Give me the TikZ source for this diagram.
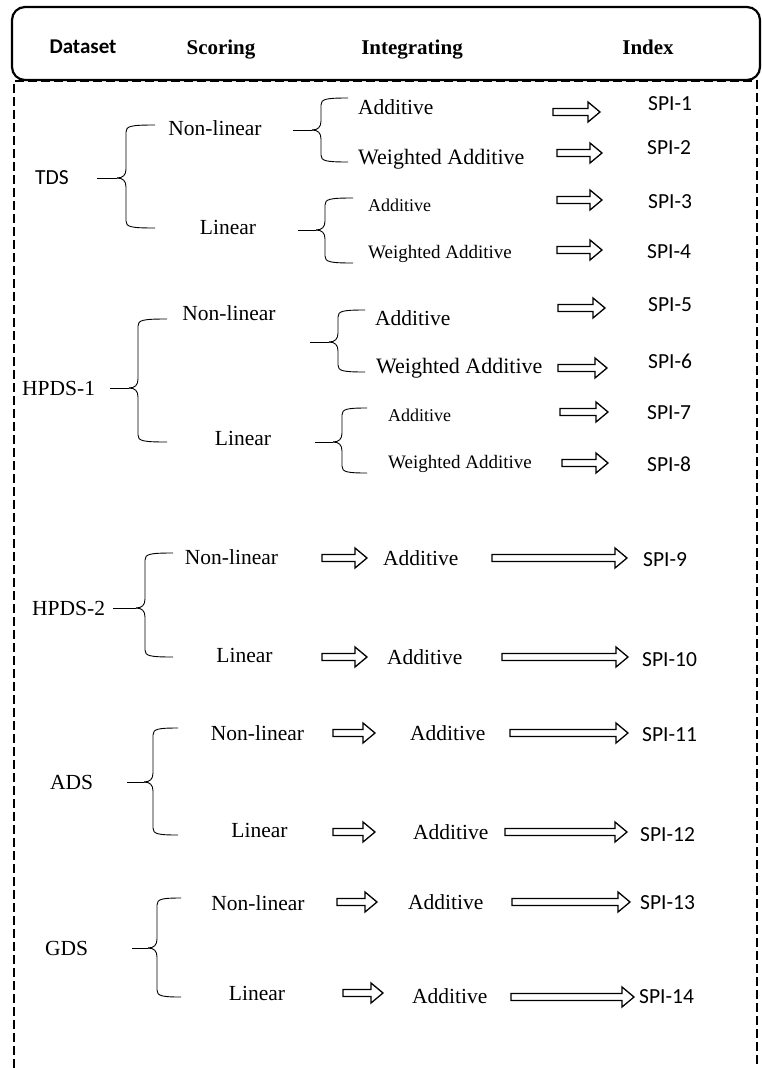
\documentclass[tikz,border=0pt]{standalone}
\usepackage{fontspec}
\setmainfont{Liberation Serif}
\newfontfamily\calfont{Carlito}
\tikzset{
  hdr/.style={font=\bfseries\fontsize{21}{24}\selectfont, inner sep=0pt, anchor=base, yshift=-7.1pt},
  hdrc/.style={font=\calfont\bfseries\fontsize{21}{24}\selectfont, inner sep=0pt, anchor=base, yshift=-6.8pt},
  tnr/.style={font=\fontsize{21.5}{24}\selectfont, inner sep=0pt, anchor=base west, yshift=-7.1pt},
  tnrW/.style={font=\fontsize{22}{24}\selectfont, inner sep=0pt, anchor=base west, yshift=-7.3pt},
  tnrS/.style={font=\fontsize{18}{20}\selectfont, inner sep=0pt, anchor=base west, yshift=-6pt},
  tnrWs/.style={font=\fontsize{19}{21}\selectfont, inner sep=0pt, anchor=base west, yshift=-6.3pt},
  cal/.style={font=\calfont\fontsize{21.5}{24}\selectfont, inner sep=0pt, anchor=base west, yshift=-6.9pt},
  bracepath/.style={line width=0.9pt},
  blkarrow/.style={line width=1.3pt, line join=miter},
  frame/.style={line width=2.2pt, rounded corners=13pt},
  dashframe/.style={line width=1.5pt, dash pattern=on 9pt off 4pt},
}
% block arrow: x-start, x-end, y
\newcommand\blk[3]{\draw[blkarrow] (#1,#3-3.5) -- (#2-12,#3-3.5) -- (#2-12,#3-10) -- (#2,#3) -- (#2-12,#3+10) -- (#2-12,#3+3.5) -- (#1,#3+3.5) -- cycle;}
% brace: stem start x, brace x, end x, top y, mid y, bottom y
\newcommand\brc[6]{%
  \draw[bracepath] (#1,#5) -- (#2-9,#5);
  \draw[bracepath] (#2-9,#5) .. controls (#2-3,#5) and (#2,#5-3) .. (#2,#5-9) -- (#2,#4+7) .. controls (#2,#4+1) and (#2+5,#4) .. (#3,#4);
  \draw[bracepath] (#2-9,#5) .. controls (#2-3,#5) and (#2,#5+3) .. (#2,#5+9) -- (#2,#6-7) .. controls (#2,#6-1) and (#2+5,#6) .. (#3,#6);
}
\begin{document}
\begin{tikzpicture}[x=1pt,y=-1pt]
\useasboundingbox (0,0) rectangle (761,1068);
\fill[white] (0,0) rectangle (761,1068);
% frames
\draw[dashframe] (14,1068) -- (14,81) -- (757,81) -- (757,1068);
\draw[frame, fill=white] (12,7) rectangle (760,80);
\node[hdrc] (hd) at (83,47) {Dataset};
\node[hdr] (hs) at (221,47) {Scoring};
\node[hdr] (hi) at (412,47) {Integrating};
\node[hdr] (hx) at (648,47) {Index};

% ---------- TDS ----------
\node[cal] (tds) at (35,178) {TDS};
\node[tnr, anchor=base] (tnl) at (215,128) {Non-linear};
\node[tnr, anchor=base] (tl) at (228,227) {Linear};
\brc{97}{126}{155}{125}{178}{228}
\brc{293}{321}{348}{98}{130}{162}
\brc{298}{325}{353}{198}{230}{263}
\node[tnr] (ta1) at (358,107) {Additive};
\node[tnrW] (ta2) at (358,157) {Weighted Additive};
\node[tnrS] (ta3) at (368,205) {Additive};
\node[tnrWs] (ta4) at (368,252) {Weighted Additive};
\blk{553}{600}{112}
\blk{557}{602}{153}
\blk{557}{602}{200}
\blk{557}{602}{250}
\node[cal] (s1) at (648,104) {SPI-1};
\node[cal] (s2) at (647,148) {SPI-2};
\node[cal] (s3) at (648,202) {SPI-3};
\node[cal] (s4) at (647,252) {SPI-4};

% ---------- HPDS-1 ----------
\node[tnr] (h1) at (22,388) {HPDS-1};
\node[tnr, anchor=base] (h1nl) at (229,313) {Non-linear};
\node[tnr, anchor=base] (h1l) at (243,438) {Linear};
\brc{110}{138}{167}{319}{388}{442}
\brc{310}{338}{365}{310}{342}{372}
\brc{315}{342}{367}{408}{442}{473}
\node[tnr] (ha1) at (375,318) {Additive};
\node[tnrW] (ha2) at (376,366) {Weighted Additive};
\node[tnrS] (ha3) at (388,415) {Additive};
\node[tnrWs] (ha4) at (388,462) {Weighted Additive};
\blk{558}{605}{308}
\blk{558}{607}{368}
\blk{560}{608}{412}
\blk{562}{608}{463}
\node[cal] (s5) at (648,305) {SPI-5};
\node[cal] (s6) at (648,362) {SPI-6};
\node[cal] (s7) at (647,413) {SPI-7};
\node[cal] (s8) at (647,465) {SPI-8};

% ---------- HPDS-2 ----------
\node[tnr] (h2) at (32,608) {HPDS-2};
\node[tnr, anchor=base] (h2nl) at (231.5,557) {Non-linear};
\node[tnr, anchor=base] (h2l) at (244.5,655) {Linear};
\brc{113}{145}{173}{553}{608}{657}
\blk{322}{367}{558}
\node[tnr] (h2a1) at (383,558) {Additive};
\blk{492}{627}{558}
\node[cal] (s9) at (643,560) {SPI-9};
\blk{322}{367}{657}
\node[tnr] (h2a2) at (387,657) {Additive};
\blk{502}{628}{657}
\node[cal] (s10) at (642,660) {SPI-10};

% ---------- ADS ----------
\node[tnr] (ads) at (50,782) {ADS};
\node[tnr, anchor=base] (anl) at (257.5,733) {Non-linear};
\node[tnr, anchor=base] (al) at (259.5,830) {Linear};
\brc{127}{153}{178}{728}{782}{835}
\blk{333}{375}{733}
\node[tnr] (aa1) at (410,733) {Additive};
\blk{510}{628}{733}
\node[cal] (s11) at (642,735) {SPI-11};
\blk{333}{375}{832}
\node[tnr] (aa2) at (413,832) {Additive};
\blk{505}{627}{832}
\node[cal] (s12) at (640,835) {SPI-12};

% ---------- GDS ----------
\node[tnr] (gds) at (45,948) {GDS};
\node[tnr, anchor=base] (gnl) at (258,903) {Non-linear};
\node[tnr, anchor=base] (gl) at (257,993) {Linear};
\brc{132}{157}{181}{898}{948}{997}
\blk{337}{377}{902}
\node[tnr] (ga1) at (408,902) {Additive};
\blk{512}{630}{902}
\node[cal] (s13) at (640,903) {SPI-13};
\blk{343}{383}{993}
\node[tnr] (ga2) at (412,996) {Additive};
\blk{511}{634}{997}
\node[cal] (s14) at (639,997) {SPI-14};
\end{tikzpicture}
\end{document}
